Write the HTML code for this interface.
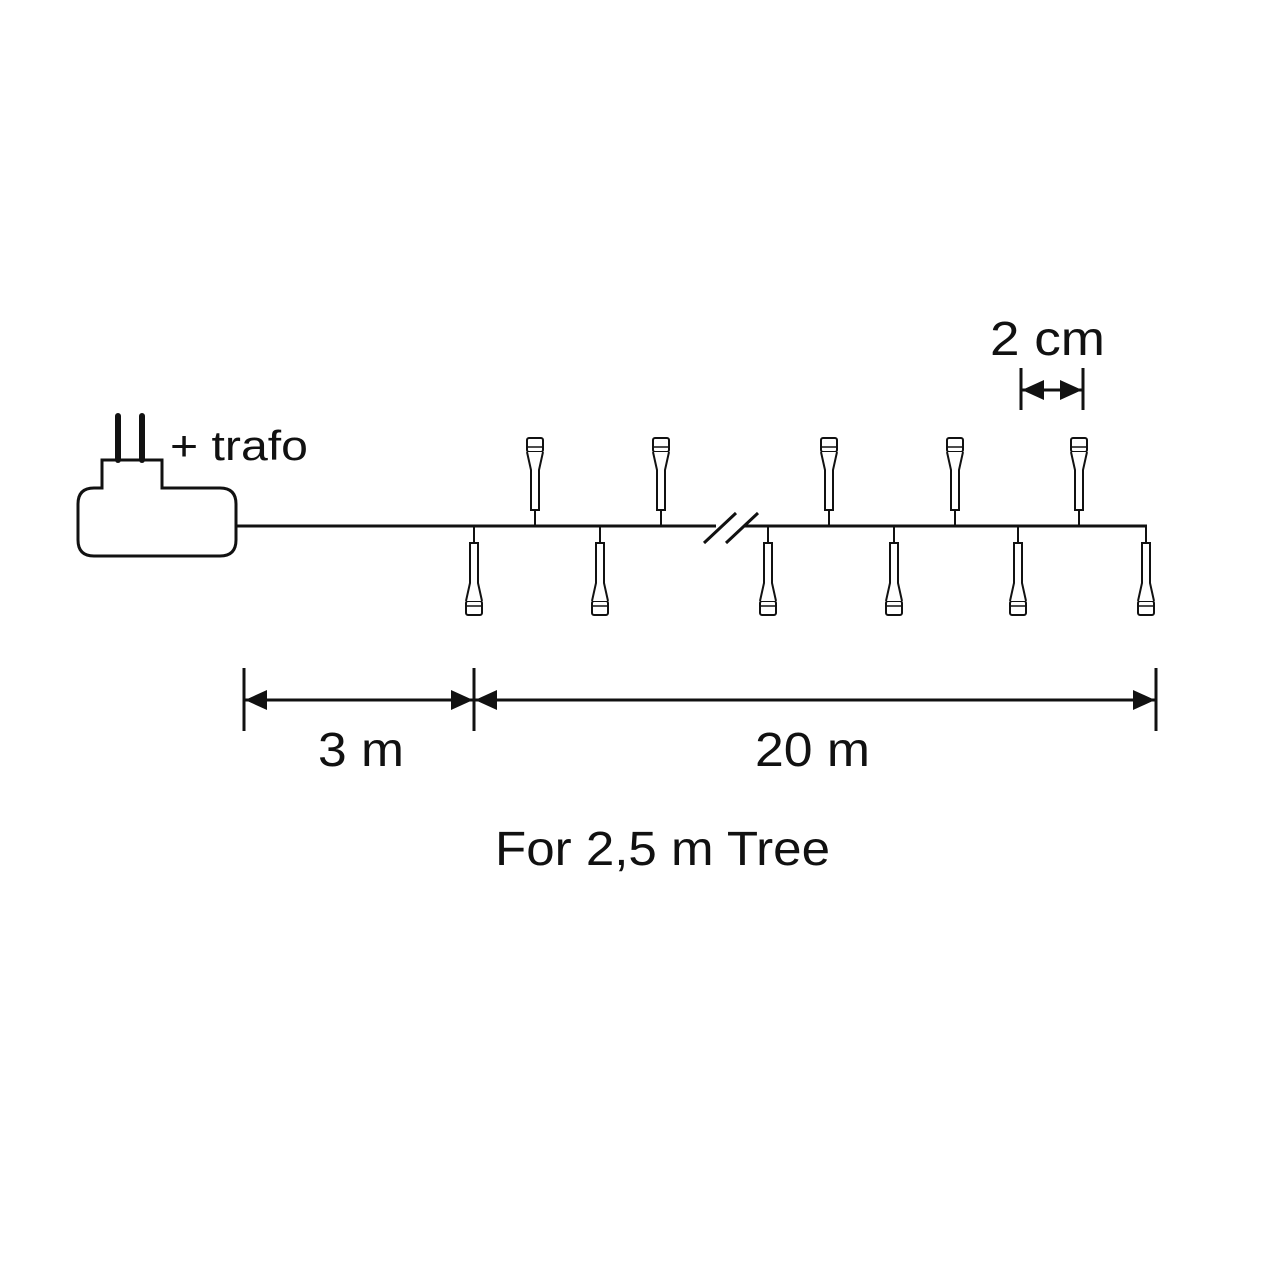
<!DOCTYPE html>
<html><head><meta charset="utf-8">
<style>html,body{margin:0;padding:0;background:#fff;width:1280px;height:1280px;overflow:hidden}</style>
</head><body>
<svg width="1280" height="1280" viewBox="0 0 1280 1280" xmlns="http://www.w3.org/2000/svg">
<defs>
<g id="b" fill="#fff" stroke="#111" stroke-width="2">
  <line x1="0" y1="509" x2="0" y2="526" stroke-width="2"/>
  <rect x="-8" y="438" width="16" height="14" rx="2"/>
  <line x1="-7" y1="447" x2="7" y2="447" stroke-width="1.5"/>
  <path d="M-8 452 L-4 470 L-4 510 L4 510 L4 470 L8 452"/>
</g>
<g id="ar"><path d="M0 0 L22 -10 L22 10 Z" fill="#111"/></g>
</defs>
<g fill="none" stroke="#111" stroke-width="3">
<path d="M102 488 L102 460 L162 460 L162 488 L220 488 Q236 488 236 504 L236 540 Q236 556 220 556 L94 556 Q78 556 78 540 L78 504 Q78 488 94 488 Z"/>
</g>
<line x1="118" y1="416" x2="118" y2="460" stroke="#111" stroke-width="6" stroke-linecap="round"/>
<line x1="142" y1="416" x2="142" y2="460" stroke="#111" stroke-width="6" stroke-linecap="round"/>
<text x="170" y="460" font-family="Liberation Sans, sans-serif" font-size="42" fill="#111" textLength="138" lengthAdjust="spacingAndGlyphs">+ trafo</text>
<line x1="236" y1="526" x2="716" y2="526" stroke="#111" stroke-width="3"/>
<line x1="744" y1="526" x2="1147" y2="526" stroke="#111" stroke-width="3"/>
<line x1="704" y1="543" x2="736" y2="513" stroke="#111" stroke-width="3"/>
<line x1="726" y1="543" x2="758" y2="513" stroke="#111" stroke-width="3"/>
<use href="#b" transform="translate(535,0)"/>
<use href="#b" transform="translate(661,0)"/>
<use href="#b" transform="translate(829,0)"/>
<use href="#b" transform="translate(955,0)"/>
<use href="#b" transform="translate(1079,0)"/>
<g transform="translate(0,1053) scale(1,-1)">
<use href="#b" transform="translate(474,0)"/>
<use href="#b" transform="translate(600,0)"/>
<use href="#b" transform="translate(768,0)"/>
<use href="#b" transform="translate(894,0)"/>
<use href="#b" transform="translate(1018,0)"/>
<use href="#b" transform="translate(1146,0)"/>
</g>
<text x="990" y="355" font-family="Liberation Sans, sans-serif" font-size="48" fill="#111" textLength="115" lengthAdjust="spacingAndGlyphs">2 cm</text>
<g stroke="#111" stroke-width="3">
<line x1="1021" y1="368" x2="1021" y2="410"/>
<line x1="1083" y1="368" x2="1083" y2="410"/>
<line x1="1021" y1="390" x2="1083" y2="390"/>
</g>
<g transform="translate(1022,390)"><use href="#ar"/></g>
<g transform="translate(1082,390) scale(-1,1)"><use href="#ar"/></g>
<g stroke="#111" stroke-width="3">
<line x1="244" y1="668" x2="244" y2="731"/>
<line x1="474" y1="668" x2="474" y2="731"/>
<line x1="1156" y1="668" x2="1156" y2="731"/>
<line x1="244" y1="700" x2="1156" y2="700"/>
</g>
<g transform="translate(245,700)"><use href="#ar"/></g>
<g transform="translate(473,700) scale(-1,1)"><use href="#ar"/></g>
<g transform="translate(475,700)"><use href="#ar"/></g>
<g transform="translate(1155,700) scale(-1,1)"><use href="#ar"/></g>
<g font-family="Liberation Sans, sans-serif" font-size="48" fill="#111">
<text x="318" y="766" textLength="86" lengthAdjust="spacingAndGlyphs">3 m</text>
<text x="755" y="766" textLength="115" lengthAdjust="spacingAndGlyphs">20 m</text>
<text x="495" y="865" textLength="335" lengthAdjust="spacingAndGlyphs">For 2,5 m Tree</text>
</g>
</svg>
</body></html>
